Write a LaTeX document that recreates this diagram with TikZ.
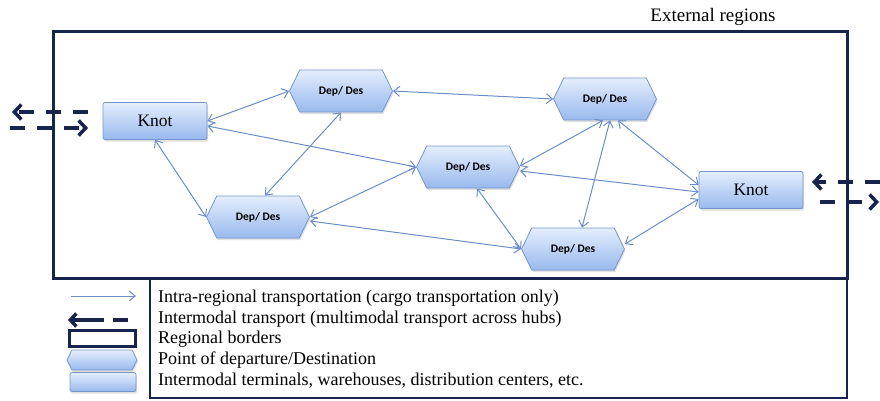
\documentclass[tikz,border=0pt]{standalone}
\usepackage{fontspec}
\setmainfont{Liberation Serif}
\newfontfamily\depfont{Carlito}
\usetikzlibrary{arrows.meta, positioning, shapes.symbols, shadows}

\definecolor{regionblue}{RGB}{22,36,78}
\definecolor{linkblue}{RGB}{108,142,198}
\definecolor{boxtop}{RGB}{228,238,253}
\definecolor{boxbottom}{RGB}{152,185,237}
\definecolor{boxline}{RGB}{118,149,203}

\tikzset{
  boxshade/.style={draw=boxline, line width=0.8pt, top color=boxtop, bottom color=boxbottom,
    drop shadow={shadow xshift=1pt, shadow yshift=-2pt, opacity=0.25}},
  knot/.style={boxshade, rounded corners=2pt, minimum width=104pt, minimum height=37pt,
    font=\fontsize{17.5}{19}\selectfont},
  depdes/.style={boxshade, signal, signal to=east and west, signal pointer angle=128,
    minimum width=103pt, minimum height=42pt, inner sep=0pt,
    font=\depfont\bfseries\fontsize{11.5}{12}\selectfont},
  link/.style={linkblue, line width=1pt,
    {Straight Barb[length=6pt,width=10pt]}-{Straight Barb[length=6pt,width=10pt]}},
  intermodal/.style={regionblue, line width=3.5pt, dash pattern=on 15pt off 12pt,
    -{Straight Barb[length=7pt,width=15pt]}},
  legendtext/.style={anchor=west, inner sep=0pt, font=\fontsize{18}{20}\selectfont}
}

\begin{document}
\begin{tikzpicture}[x=1pt, y=-1pt]
    \useasboundingbox (0,0) rectangle (880,401);
    % Region and legend borders
    \draw[regionblue, line width=3pt] (53,32) rectangle (847,278);
    \draw[regionblue, line width=2.5pt] (150,278) rectangle (847,398);
    \node (external) at (713,17) {\fontsize{19}{20}\selectfont External regions};
    % Knots and points of departure/destination
    \node[knot] (knotL) at (155,121) {Knot};
    \node[knot] (knotR) at (751,190) {Knot};
    \node[depdes] (depA) at (341,91) {Dep/ Des};
    \node[depdes] (depB) at (605,99) {Dep/ Des};
    \node[depdes] (depC) at (468,167) {Dep/ Des};
    \node[depdes] (depD) at (258,217) {Dep/ Des};
    \node[depdes] (depE) at (573,249) {Dep/ Des};
    % Intra-regional links
    \draw[link] (knotL.east) -- (depA.west);
    \draw[link] ([yshift=-5pt]knotL.east) -- (depC.west);
    \draw[link] (knotL.south) -- (depD.west);
    \draw[link] (depA.south) -- ([xshift=7pt]depD.north);
    \draw[link] (depA.east) -- (depB.west);
    \draw[link] (depD.east) -- (depC.west);
    \draw[link] ([yshift=-4pt]depD.east) -- (depE.west);
    \draw[link] ([yshift=1pt]depC.east) -- ([xshift=-2pt]depB.south);
    \draw[link] ([xshift=9pt]depC.south) -- (depE.west);
    \draw[link] ([xshift=5pt]depB.south) -- ([xshift=9pt]depE.north);
    \draw[link] ([xshift=13pt]depB.south) -- ([yshift=5pt]knotR.west);
    \draw[link] ([yshift=-4pt]depC.east) -- ([yshift=-2pt]knotR.west);
    \draw[link] ([yshift=5pt]depE.east) -- ([yshift=-9pt]knotR.west);
    % Intermodal transport across the border
    \coordinate (inL) at (88,112);
    \coordinate (outL) at (12,112);
    \coordinate (inL2) at (10,128);
    \coordinate (outL2) at (88,128);
    \draw[intermodal] (inL) -- (outL);
    \draw[intermodal] (inL2) -- (outL2);
    \coordinate (inR) at (880,182);
    \coordinate (outR) at (812,182);
    \coordinate (inR2) at (820,202);
    \coordinate (outR2) at (879,202);
    \draw[intermodal] (inR) -- (outR);
    \draw[intermodal] (inR2) -- (outR2);
    % Legend symbols
    \coordinate (legA1) at (71,296);
    \coordinate (legA2) at (136,296);
    \draw[linkblue, line width=1pt, -{Straight Barb[length=6pt,width=10pt]}] (legA1) -- (legA2);
    \coordinate (legB1) at (128,320);
    \coordinate (legB2) at (68,320);
    \draw[regionblue, line width=3.5pt, dash pattern=on 15pt off 9pt on 60pt,
      -{Straight Barb[length=6pt,width=13pt]}] (legB1) -- (legB2);
    \node[draw=regionblue, line width=3pt, minimum width=66pt, minimum height=16pt] (legC) at (102,338) {};
    \node[depdes, minimum width=70pt, minimum height=20pt] (legD) at (102,360) {};
    \node[knot, minimum width=66pt, minimum height=19pt] (legE) at (103,382) {};
    % Legend texts
    \node[legendtext] (txtA) at (158,298) {Intra-regional transportation (cargo transportation only)};
    \node[legendtext] (txtB) at (158,319) {Intermodal transport (multimodal transport across hubs)};
    \node[legendtext] (txtC) at (158,339.5) {Regional borders};
    \node[legendtext] (txtD) at (158,360) {Point of departure/Destination};
    \node[legendtext] (txtE) at (158,380.5) {Intermodal terminals, warehouses, distribution centers, etc.};
\end{tikzpicture}
\end{document}
